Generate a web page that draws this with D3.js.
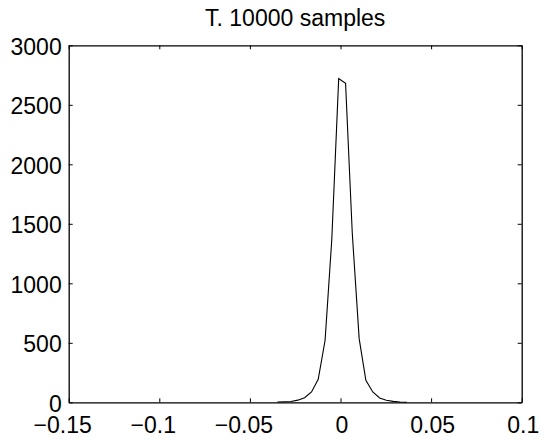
<!DOCTYPE html>
<html lang="en">
<head>
<meta charset="utf-8">
<title>T. 10000 samples</title>
<script src="https://cdn.jsdelivr.net/npm/d3@7"></script>
<style>
  body { margin: 0; background: #fff; }
  svg text { font-family: "Liberation Sans", Arial, Helvetica, sans-serif; fill: #000; }
</style>
</head>
<body>
<script>
// histogram bin centres and counts
var binCenters = [-0.0348, -0.0311, -0.0273, -0.0236, -0.0198, -0.0160, -0.0123, -0.0085, -0.0048, -0.0010,
                  0.0028, 0.0065, 0.0103, 0.0140, 0.0178, 0.0216, 0.0253, 0.0291, 0.0328, 0.0366];
var counts = [2, 5, 7, 18, 39, 87, 193, 521, 1370, 2720,
              2680, 1420, 535, 185, 87, 36, 17, 8, 3, 1];
var xTicks = [-0.15, -0.1, -0.05, 0, 0.05, 0.1];
var yTicks = [0, 500, 1000, 1500, 2000, 2500, 3000];
var title = "T. 10000 samples";

var W = 540, H = 445;
var margin = { left: 68.7, right: 18.3, top: 45.3, bottom: 42.7 };
var fontSize = 23;
var tickLen = 4;

var svg = d3.select("body").append("svg")
    .attr("width", W)
    .attr("height", H);

var x = d3.scaleLinear().domain([-0.15, 0.1]).range([margin.left, W - margin.right]);
var y = d3.scaleLinear().domain([0, 3000]).range([H - margin.bottom, margin.top]);

function fmt(d) {
  if (d === 0) return "0";
  return d < 0 ? "\u2212" + String(-d) : String(d);
}

// the data line
var line = d3.line()
    .x(function(d, i) { return x(binCenters[i]); })
    .y(function(d) { return y(d); });

svg.append("path")
    .datum(counts)
    .attr("d", line)
    .attr("fill", "none")
    .attr("stroke", "#000")
    .attr("stroke-width", 1.1);

// axes, matlab style: ticks inside, box all round
var bottom = svg.append("g")
    .attr("transform", "translate(0," + y(0) + ")")
    .call(d3.axisBottom(x).tickValues(xTicks).tickSizeInner(-tickLen).tickSizeOuter(0).tickPadding(0).tickFormat(""));
var top = svg.append("g")
    .attr("transform", "translate(0," + y(3000) + ")")
    .call(d3.axisTop(x).tickValues(xTicks).tickSizeInner(-tickLen).tickSizeOuter(0).tickFormat(""));
var left = svg.append("g")
    .attr("transform", "translate(" + x(-0.15) + ",0)")
    .call(d3.axisLeft(y).tickValues(yTicks).tickSizeInner(-tickLen).tickSizeOuter(0).tickFormat(""));
var right = svg.append("g")
    .attr("transform", "translate(" + x(0.1) + ",0)")
    .call(d3.axisRight(y).tickValues(yTicks).tickSizeInner(-tickLen).tickSizeOuter(0).tickFormat(""));

svg.selectAll(".domain").attr("stroke", "#000").attr("stroke-width", 1.3);
svg.selectAll(".tick line").attr("stroke", "#000").attr("stroke-width", 1);

// tick labels
svg.append("g").selectAll("text")
    .data(xTicks)
    .enter().append("text")
    .attr("x", function(d) { return x(d) + (d < 0 ? -6 : 1.5); })
    .attr("y", y(0) + 31)
    .attr("text-anchor", "middle")
    .style("font-size", fontSize + "px")
    .text(fmt);

svg.append("g").selectAll("text")
    .data(yTicks)
    .enter().append("text")
    .attr("x", x(-0.15) - 7)
    .attr("y", function(d) { return y(d) + 9.5; })
    .attr("text-anchor", "end")
    .style("font-size", fontSize + "px")
    .text(fmt);

svg.append("text")
    .attr("x", (x(-0.15) + x(0.1)) / 2)
    .attr("y", 26)
    .attr("text-anchor", "middle")
    .style("font-size", fontSize + "px")
    .text(title);
</script>
</body>
</html>
